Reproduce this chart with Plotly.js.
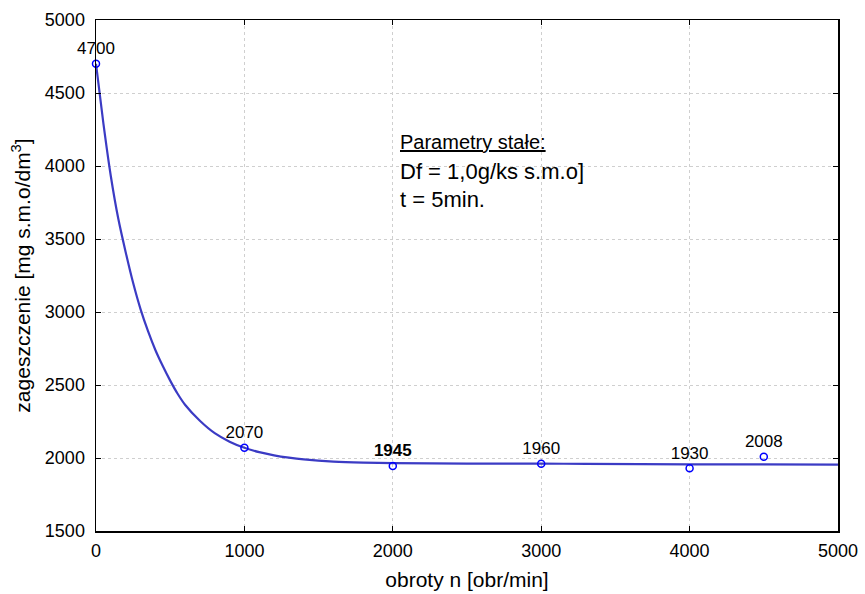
<!DOCTYPE html>
<html>
<head>
<meta charset="utf-8">
<script src="https://cdn.plot.ly/plotly-3.0.1.min.js"></script>
<style>body{margin:0;padding:0;background:#fff;} #chart{width:865px;height:594px;}</style>
</head>
<body>
<div id="chart"></div>
<script>
// Measured points
var pointX = [0, 1000, 2000, 3000, 4000, 4500];
var pointY = [4700, 2070, 1945, 1960, 1930, 2008];
var pointLabels = ["4700", "2070", "<b>1945</b>", "1960", "1930", "2008"];

// Fitted curve
var curveX = [0, 50, 100, 150, 200, 250, 300, 350, 400, 450, 500, 550, 600, 700, 800, 900, 1000, 1100, 1200, 1300, 1400, 1600, 1800, 2000, 2500, 3000, 3300, 4000, 5000];
var curveY = [4700, 4290, 3930, 3640, 3410, 3200, 3020, 2870, 2740, 2630, 2530, 2440, 2365, 2255, 2170, 2112, 2070, 2040, 2018, 2002, 1990, 1975, 1968, 1965, 1962, 1961, 1960, 1957, 1955];

var xTicks = [0, 1000, 2000, 3000, 4000, 5000];
var yTicks = [1500, 2000, 2500, 3000, 3500, 4000, 4500, 5000];

var font = "Liberation Sans, Arial, sans-serif";

var traces = [
  {
    x: curveX, y: curveY, mode: "lines", type: "scatter",
    line: {color: "#3b3bc4", width: 2.2, shape: "spline", smoothing: 0.6},
    hoverinfo: "skip", showlegend: false
  },
  {
    x: pointX, y: pointY, mode: "markers+text", type: "scatter",
    marker: {symbol: "circle-open", size: 7, color: "#0000ff", line: {width: 1.5, color: "#0000ff"}},
    text: pointLabels, textposition: "top center",
    textfont: {family: font, size: 17, color: "#000"},
    showlegend: false, cliponaxis: false
  }
];

var axisCommon = {
  showline: true, linecolor: "#000", linewidth: 1.5, mirror: "ticks",
  ticks: "inside", ticklen: 5, tickcolor: "#000", tickwidth: 1,
  showgrid: true, gridcolor: "#cfcfcf", griddash: "dot", gridwidth: 1,
  zeroline: false, tickfont: {family: font, size: 18, color: "#000"}
};

var layout = {
  width: 865, height: 594,
  margin: {l: 96, r: 27, t: 20, b: 63},
  paper_bgcolor: "#fff", plot_bgcolor: "#fff",
  xaxis: Object.assign({}, axisCommon, {
    range: [0, 5000], tickvals: xTicks, ticktext: xTicks.map(String),
    ticklabelstandoff: 3,
    title: {text: "obroty n [obr/min]", font: {family: font, size: 21, color: "#000"}, standoff: 12}
  }),
  yaxis: Object.assign({}, axisCommon, {
    range: [1500, 5000], tickvals: yTicks, ticktext: yTicks.map(String),
    ticklabelstandoff: 6,
    title: {text: "zageszczenie [mg s.m.o/dm<sup>3</sup>]", font: {family: font, size: 21, color: "#000"}, standoff: 8}
  }),
  annotations: [
    {xref: "x", yref: "paper", x: 2035, y: 0.761, xanchor: "left", yanchor: "middle", showarrow: false,
     text: "<u>Parametry stałe:</u>", font: {family: font, size: 20, color: "#000"}},
    {xref: "x", yref: "paper", x: 2035, y: 0.703, xanchor: "left", yanchor: "middle", showarrow: false,
     text: "Df = 1,0g/ks s.m.o]", font: {family: font, size: 22, color: "#000"}},
    {xref: "x", yref: "paper", x: 2035, y: 0.648, xanchor: "left", yanchor: "middle", showarrow: false,
     text: "t = 5min.", font: {family: font, size: 22, color: "#000"}}
  ]
};

Plotly.newPlot("chart", traces, layout, {displayModeBar: false, staticPlot: true});
</script>
</body>
</html>
